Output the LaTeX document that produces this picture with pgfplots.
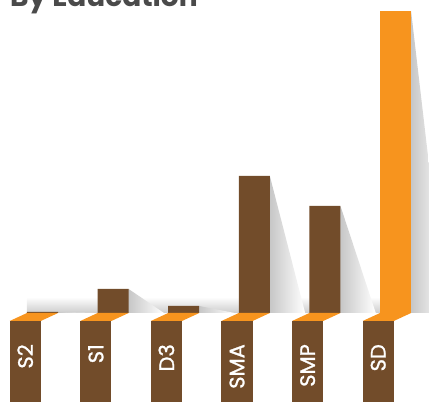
\documentclass[border=0pt]{standalone}
\usepackage{pgfplots}
\pgfplotsset{compat=1.18}
\usepackage{fontspec}
\setmainfont{Poppins}
\newfontfamily\labfont{Poppins}[FakeBold=1.2]
\definecolor{barbrown}{HTML}{724C2A}
\definecolor{barorange}{HTML}{F7941E}
\definecolor{titlegray}{HTML}{4A4A4A}
\begin{document}
\begin{tikzpicture}
\useasboundingbox (0,0) rectangle (429pt,402pt);
\clip (0,0) rectangle (429pt,402pt);
\begin{axis}[at={(0,0)}, anchor=south west, scale only axis,
  width=429pt, height=402pt,
  xmin=-0.602, xmax=5.474, ymin=-89, ymax=313,
  hide axis, clip=false]
% floor band
\shade[bottom color=black!20, top color=white] (axis cs:-0.22,0) rectangle (axis cs:5.474,16);
% shadows
\shade[left color=black!22, right color=white] (axis cs:0.22,1) -- (axis cs:0.72,0) -- (axis cs:0.22,0) -- cycle;
\shade[left color=black!22, right color=white] (axis cs:1.22,24) -- (axis cs:1.72,0) -- (axis cs:1.22,0) -- cycle;
\shade[left color=black!22, right color=white] (axis cs:2.22,7) -- (axis cs:2.72,0) -- (axis cs:2.22,0) -- cycle;
\shade[left color=black!22, right color=white] (axis cs:3.22,137) -- (axis cs:3.72,0) -- (axis cs:3.22,0) -- cycle;
\shade[left color=black!22, right color=white] (axis cs:4.22,107) -- (axis cs:4.72,0) -- (axis cs:4.22,0) -- cycle;
\shade[left color=black!22, right color=white] (axis cs:5.22,302) -- (axis cs:5.72,0) -- (axis cs:5.22,0) -- cycle;
% bars
\addplot[ybar, bar width=0.44, bar shift=0pt, fill=barbrown, draw=none]
  coordinates {(0,1) (1,24) (2,7) (3,137) (4,107)};
\addplot[ybar, bar width=0.44, bar shift=0pt, fill=barorange, draw=none]
  coordinates {(5,302)};
% label boxes
\pgfplotsinvokeforeach{0,...,5}{
  \fill[barorange] (axis cs:#1-0.22,0) -- (axis cs:#1+0.22,0) -- (axis cs:#1-0.025,-8) -- (axis cs:#1-0.465,-8) -- cycle;
  \fill[barbrown] (axis cs:#1-0.465,-8) rectangle (axis cs:#1-0.025,-89);
}
\tikzset{lab/.style={rotate=90, anchor=east, text=white, font=\labfont\fontsize{21}{21}\selectfont, inner sep=0pt}}
\node[lab] at (axis cs:-0.245,-31) {S2};
\node[lab] at (axis cs:0.755,-31) {S1};
\node[lab] at (axis cs:1.755,-31) {D3};
\node[lab] at (axis cs:2.755,-31) {SMA};
\node[lab] at (axis cs:3.755,-31) {SMP};
\node[lab] at (axis cs:4.755,-31) {SD};
% title
\node[anchor=base west, text=titlegray, font=\fontsize{28}{28}\selectfont\bfseries, inner sep=0pt] at (axis cs:-0.46,306) {By Education};
\end{axis}
\end{tikzpicture}
\end{document}
